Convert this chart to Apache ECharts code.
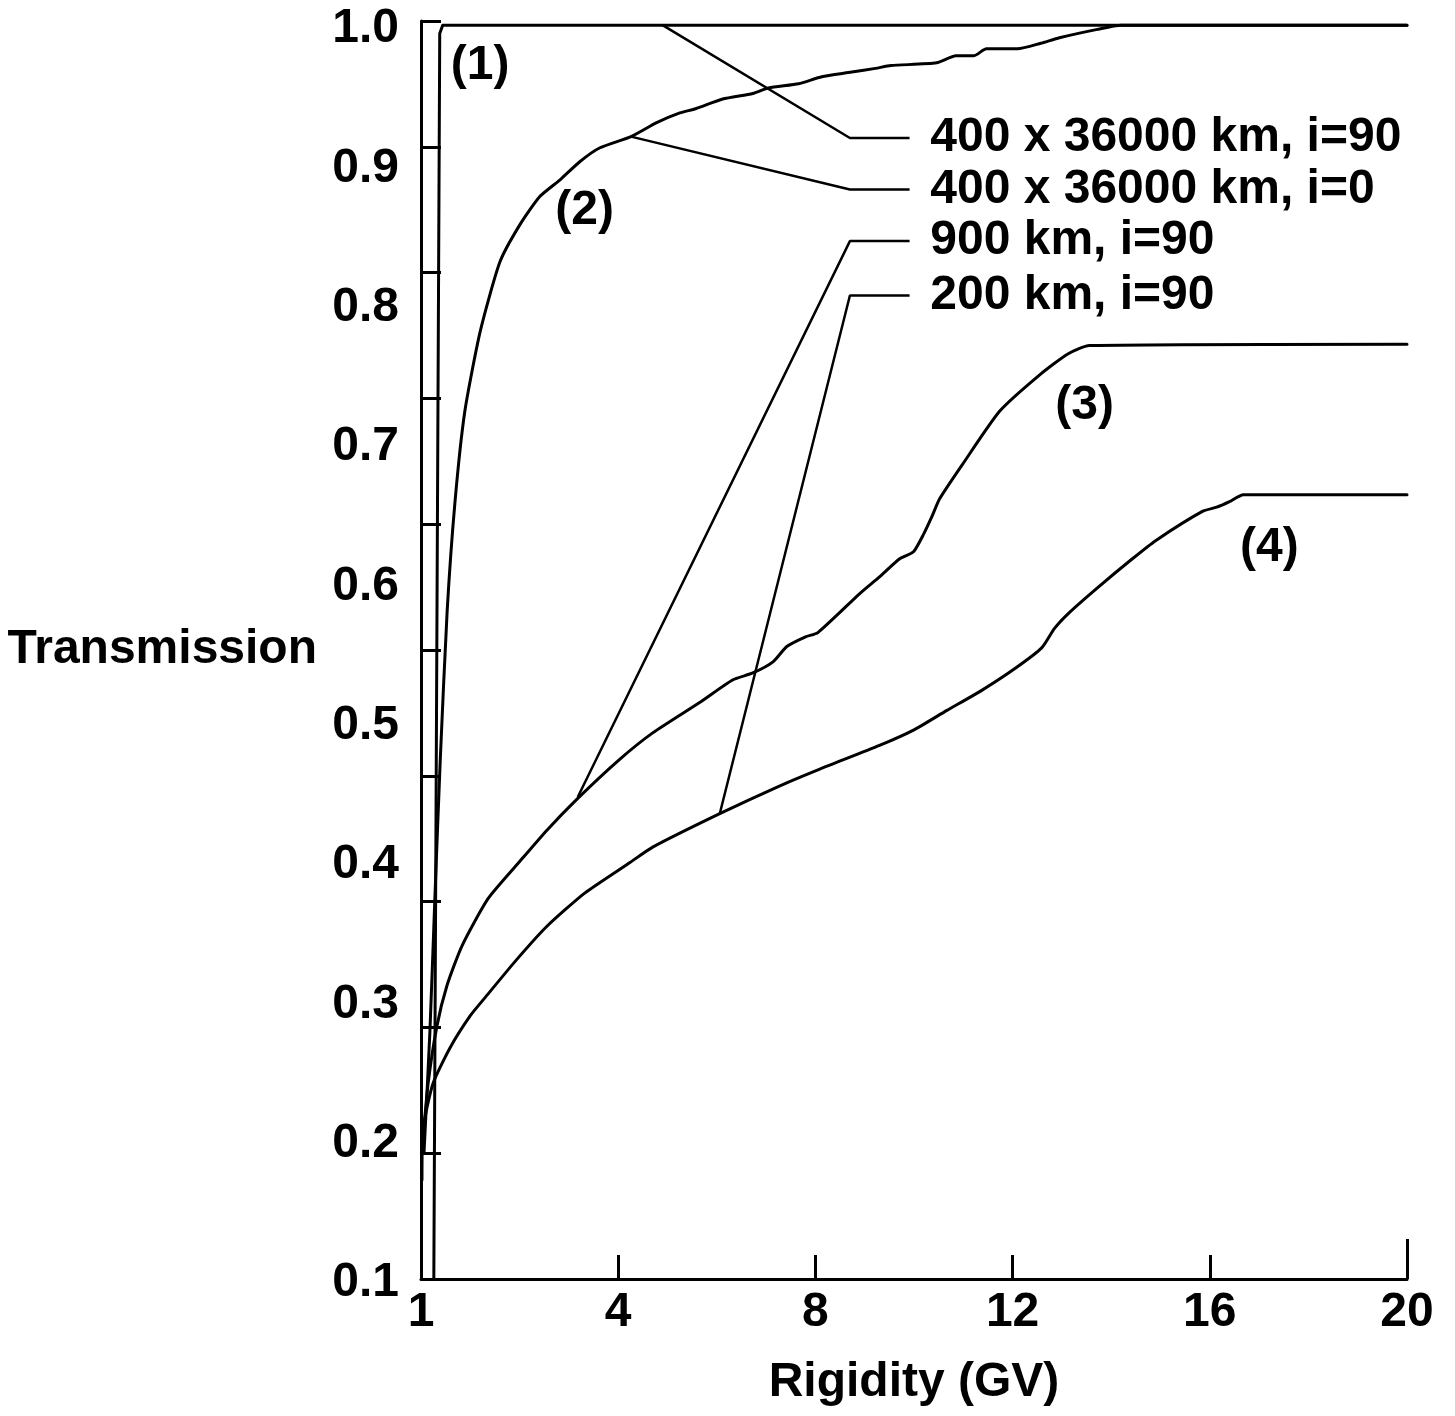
<!DOCTYPE html>
<html>
<head>
<meta charset="utf-8">
<script src="https://cdn.jsdelivr.net/npm/echarts@6/dist/echarts.min.js"></script>
<style>
html,body{margin:0;padding:0;background:#fff;}
#chart{width:1455px;height:1416px;}
</style>
</head>
<body>
<div id="chart"></div>
<script>
// ---- data (Rigidity GV, Transmission) ----
const curve1 = [[0.26,0.10],[0.38,0.994],[0.44,1.0],[20,1.0]];
const curve2 = [[0.06,0.19],[0.18,0.277],[0.28,0.372],[0.39,0.472],[0.53,0.579],[0.69,0.658],[0.89,0.723],
  [1.20,0.780],[1.60,0.830],[2.01,0.857],[2.41,0.877],[2.82,0.889],[3.22,0.902],[3.63,0.912],[4.26,0.920],
  [4.78,0.930],[5.25,0.937],[5.57,0.940],[6.12,0.947],[6.73,0.951],[7.05,0.955],[7.66,0.958],[8.13,0.963],
  [8.67,0.966],[9.22,0.969],[9.53,0.971],[10.46,0.973],[10.85,0.978],[11.21,0.978],[11.47,0.983],[12.10,0.983],
  [12.57,0.987],[12.95,0.991],[13.72,0.997],[14.2,1.0],[20,1.0]];
const curve3 = [[0.02,0.192],[0.14,0.239],[0.32,0.281],[0.53,0.311],[0.83,0.339],[1.36,0.373],[2.01,0.400],
  [2.55,0.422],[3.18,0.445],[4.03,0.473],[4.70,0.492],[5.66,0.514],[6.32,0.530],[6.73,0.535],[7.14,0.543],
  [7.42,0.554],[7.80,0.561],[8.05,0.564],[8.90,0.592],[9.30,0.604],[9.71,0.617],[9.99,0.622],[10.20,0.635],
  [10.36,0.647],[10.52,0.660],[10.97,0.684],[11.74,0.723],[12.55,0.749],[13.12,0.764],[13.56,0.770],[20,0.771]];
const curve4 = [[0.02,0.171],[0.04,0.207],[0.24,0.240],[0.59,0.266],[1.00,0.289],[1.30,0.302],[1.91,0.328],[2.55,0.353],
  [3.32,0.377],[4.24,0.399],[4.70,0.410],[6.06,0.434],[7.28,0.454],[8.09,0.466],[9.30,0.483],[9.99,0.494],
  [10.66,0.508],[11.35,0.522],[12.04,0.538],[12.59,0.553],[12.85,0.567],[13.14,0.578],[13.75,0.597],
  [14.43,0.617],[14.90,0.630],[15.85,0.651],[16.14,0.654],[16.40,0.658],[16.68,0.663],[20,0.663]];

const curveLabels = ['(1)','(2)','(3)','(4)'];
const curveLabelPos = [[1.20,0.971],[3.32,0.867],[13.46,0.727],[17.21,0.625]];

const calloutTexts = ['400 x 36000 km, i=90','400 x 36000 km, i=0','900 km, i=90','200 km, i=90'];
const leader1 = [[4.90,1.0],[8.70,0.919],[9.91,0.919]];
const leader2 = [[4.26,0.920],[8.70,0.882],[9.91,0.882]];
const leader3 = [[3.18,0.446],[8.70,0.845],[9.91,0.845]];
const leader4 = [[6.06,0.434],[8.70,0.806],[9.91,0.806]];
const calloutTextX = 10.32;

const xTicks = {min:0, max:20, interval:4};
const yTicks = {min:0.1, max:1.003, interval:0.1};

// ---- chart ----
const FONT = '"Liberation Sans", Arial, Helvetica, sans-serif';
const txt = {fontFamily:FONT, fontWeight:'bold', fontSize:48, color:'#000'};
const black = '#000';

function curveSeries(data, smooth){
  return {type:'line', data:data, xAxisIndex:0, yAxisIndex:0, symbol:'none', silent:true,
    smooth:smooth, lineStyle:{color:black, width:3, join:'round', cap:'round'}};
}
function leaderSeries(data){
  return {type:'line', data:data, xAxisIndex:0, yAxisIndex:0, symbol:'none', silent:true,
    lineStyle:{color:black, width:2.5}};
}

const leaders = [leader1, leader2, leader3, leader4];
const calloutData = calloutTexts.map((t,i)=>({name:t, value:[calloutTextX, leaders[i][2][1]]}));
const curveLabelData = curveLabels.map((t,i)=>({name:t, value:curveLabelPos[i]}));

const labelStyle = Object.assign({show:true, formatter:'{b}', textBorderWidth:0, opacity:1}, txt);

const chart = echarts.init(document.getElementById('chart'));
chart.setOption({
  animation:false,
  backgroundColor:'#fff',
  grid:{left:421, right:48, top:21, bottom:137, containLabel:false, outerBoundsMode:'none'},
  xAxis:[
    {type:'value', min:xTicks.min, max:xTicks.max, interval:xTicks.interval, position:'bottom',
     axisLine:{show:true, onZero:false, lineStyle:{color:black, width:3}},
     axisTick:{show:true, inside:true, length:24, lineStyle:{color:black, width:3}},
     axisLabel:Object.assign({margin:10, formatter:v=> v===0 ? '1' : String(v)}, txt),
     splitLine:{show:false},
     name:'Rigidity (GV)', nameLocation:'middle', nameGap:80, nameTextStyle:txt},
    {type:'value', min:0, max:20, interval:20, position:'bottom',
     axisLine:{show:false, onZero:false},
     axisTick:{show:true, inside:true, length:40, lineStyle:{color:black, width:3}},
     axisLabel:{show:false}, splitLine:{show:false}}
  ],
  yAxis:[
    {type:'value', min:yTicks.min, max:yTicks.max, interval:yTicks.interval, position:'left',
     axisLine:{show:true, onZero:false, lineStyle:{color:black, width:3}},
     axisTick:{show:false},
     axisLabel:Object.assign({margin:22, showMaxLabel:false,
       formatter:v=> (Math.abs(v*10-Math.round(v*10))<1e-6) ? '{t|' + v.toFixed(1) + '}' : '',
       rich:{t:Object.assign({padding:[8,0,0,0]}, txt)}}, txt),
     splitLine:{show:false},
     name:'Transmission', nameLocation:'middle', nameRotate:0, nameGap:104, nameTextStyle:txt},
    {type:'value', min:0, max:1, interval:0.1, position:'left',
     axisLine:{show:false, onZero:false},
     axisTick:{show:true, inside:true, length:20, lineStyle:{color:black, width:3}},
     axisLabel:{show:false}, splitLine:{show:false}}
  ],
  series:[
    curveSeries(curve1, false),
    curveSeries(curve2, 0.2),
    curveSeries(curve3, 0.2),
    curveSeries(curve4, 0.2),
    leaderSeries(leader1),
    leaderSeries(leader2),
    leaderSeries(leader3),
    leaderSeries(leader4),
    {type:'scatter', data:calloutData, symbolSize:1, silent:true, itemStyle:{color:'#fff', opacity:1},
     label:Object.assign({position:'right', distance:0}, labelStyle)},
    {type:'scatter', data:curveLabelData, symbolSize:1, silent:true, itemStyle:{color:'#fff', opacity:1},
     label:Object.assign({position:'inside'}, labelStyle)}
  ]
});
</script>
</body>
</html>
